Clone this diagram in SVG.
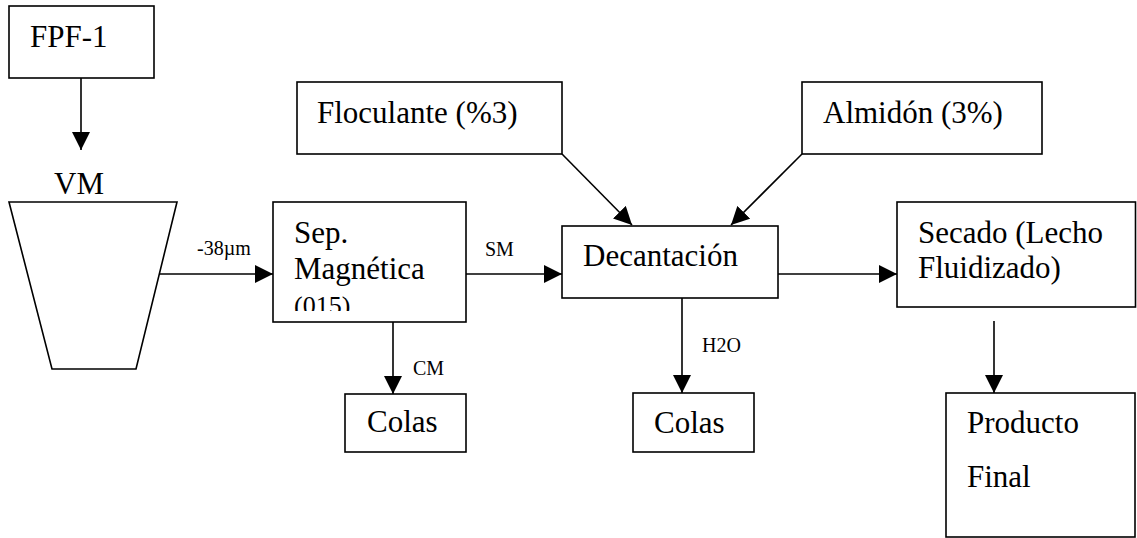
<svg xmlns="http://www.w3.org/2000/svg" width="1137" height="538" viewBox="0 0 1137 538">
  <style>
    .box { fill: #fff; stroke: #000; stroke-width: 1.6; }
    .lbl { font-family: "Liberation Serif", "Times New Roman", serif; font-size: 31px; fill: #000; }
    .sm { font-family: "Liberation Serif", "Times New Roman", serif; font-size: 20px; fill: #000; }
    .edge { fill: none; stroke: #000; stroke-width: 1.6; marker-end: url(#arrow); }
  </style>
  <defs>
    <marker id="arrow" markerUnits="userSpaceOnUse" markerWidth="18" markerHeight="18" viewBox="0 0 16 16" refX="16" refY="8" orient="auto">
      <path d="M0,0 L16,8 L0,16 Z" fill="#000"/>
    </marker>
    <clipPath id="sepClip">
      <rect x="274" y="203" width="191" height="108"/>
    </clipPath>
  </defs>
  <rect width="1137" height="538" fill="#fff"/>

  <g id="fpf1">
    <rect class="box" x="9" y="6" width="145" height="72"/>
    <text class="lbl" x="30" y="47">FPF-1</text>
  </g>

  <g id="vm">
    <polygon class="box" points="9,202 177,202 136,369 52,369"/>
    <text class="lbl" x="54" y="194">VM</text>
  </g>

  <g id="sep-magnetica">
    <rect class="box" x="273" y="202" width="193" height="120"/>
    <g clip-path="url(#sepClip)">
      <text class="lbl" x="294" y="243">Sep.</text>
      <text class="lbl" x="294" y="279">Magnética</text>
      <text class="lbl" x="294" y="314" style="font-size:26px">(015)</text>
    </g>
  </g>

  <g id="colas-1">
    <rect class="box" x="345" y="394" width="121" height="58"/>
    <text class="lbl" x="367" y="432">Colas</text>
  </g>

  <g id="floculante">
    <rect class="box" x="297" y="82" width="265" height="72"/>
    <text class="lbl" x="317" y="123">Floculante (%3)</text>
  </g>

  <g id="almidon">
    <rect class="box" x="802" y="82" width="240" height="72"/>
    <text class="lbl" x="823" y="123">Almidón (3%)</text>
  </g>

  <g id="decantacion">
    <rect class="box" x="562" y="226" width="216" height="72"/>
    <text class="lbl" x="583" y="266">Decantación</text>
  </g>

  <g id="colas-2">
    <rect class="box" x="633" y="393" width="121" height="59"/>
    <text class="lbl" x="654" y="433">Colas</text>
  </g>

  <g id="secado">
    <rect class="box" x="897" y="202" width="238.5" height="105"/>
    <text class="lbl" x="918" y="243">Secado (Lecho</text>
    <text class="lbl" x="918" y="278">Fluidizado)</text>
  </g>

  <g id="producto-final">
    <rect class="box" x="946" y="393" width="189" height="144"/>
    <text class="lbl" x="967" y="433">Producto</text>
    <text class="lbl" x="967" y="487">Final</text>
  </g>

  <g id="connectors">
    <line class="edge" x1="81" y1="78" x2="81" y2="150"/>
    <line class="edge" x1="159" y1="274" x2="273" y2="274"/>
    <line class="edge" x1="466" y1="274" x2="562" y2="274"/>
    <line class="edge" x1="778" y1="274" x2="897" y2="274"/>
    <line class="edge" x1="562" y1="154" x2="632" y2="225"/>
    <line class="edge" x1="802" y1="154" x2="731" y2="225"/>
    <line class="edge" x1="393" y1="322" x2="393" y2="394"/>
    <line class="edge" x1="682" y1="298" x2="682" y2="393"/>
    <line class="edge" x1="994" y1="321" x2="994" y2="393"/>
    <text class="sm" x="197" y="255">-38µm</text>
    <text class="sm" x="485" y="256">SM</text>
    <text class="sm" x="413" y="375">CM</text>
    <text class="sm" x="702" y="352">H2O</text>
  </g>
</svg>
